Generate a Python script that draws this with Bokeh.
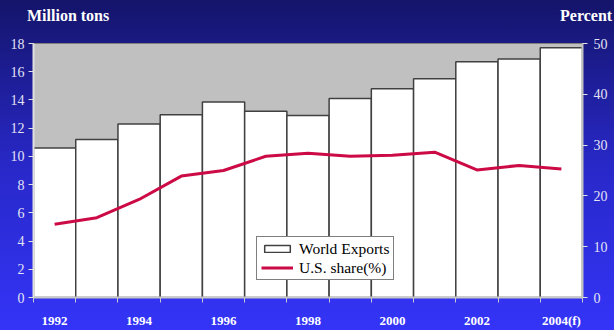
from bokeh.plotting import figure
from bokeh.layouts import column
from bokeh.models import (Range1d, LinearAxis, FixedTicker, Legend, LegendItem,
                          ColumnDataSource, Div)
from bokeh.embed import file_html
from bokeh.resources import INLINE

years = [1992, 1993, 1994, 1995, 1996, 1997, 1998, 1999, 2000, 2001, 2002, 2003, 2004]
world_exports = [10.6, 11.2, 12.3, 12.95, 13.85, 13.2, 12.9, 14.1, 14.8, 15.5, 16.7, 16.9, 17.7]
us_share = [14.4, 15.7, 19.3, 23.9, 25.0, 27.8, 28.4, 27.8, 28.0, 28.6, 25.1, 26.0, 25.3]
x_tick_labels = {1992: "1992", 1994: "1994", 1996: "1996", 1998: "1998",
                 2000: "2000", 2002: "2002", 2004: "2004(f)"}
left_ticks = [0, 2, 4, 6, 8, 10, 12, 14, 16, 18]
right_ticks = [0, 10, 20, 30, 40, 50]
left_title = "Million tons"
right_title = "Percent"

font = "Liberation Serif"
tick_color = "#e4e4f4"

src = ColumnDataSource(dict(year=years, exports=world_exports, share=us_share))

# header strip holding the two axis titles
span_style = ("position:absolute;top:8px;line-height:16px;white-space:nowrap;"
              "font-family:'Liberation Serif',serif;font-weight:bold;font-size:16px;color:white;")
head_html = (
    '<div style="position:relative;width:614px;height:35px;overflow:hidden;">'
    f'<span style="{span_style}left:27px;">{left_title}</span>'
    f'<span style="{span_style}left:560px;">{right_title}</span>'
    '</div>'
)
head = Div(text=head_html, width=614, height=35,
           styles={"overflow": "hidden", "margin": "0", "padding": "0"})

p = figure(width=614, height=295, output_backend="svg", toolbar_location=None,
           x_range=Range1d(years[0] - 0.5, years[-1] + 0.5), y_range=Range1d(0, 18),
           min_border_left=33, min_border_right=32, min_border_top=8, min_border_bottom=30)
p.extra_y_ranges = {"pct": Range1d(0, 50)}

p.border_fill_alpha = 0
p.background_fill_color = "#c0c0c0"
p.outline_line_color = "#808080"
p.xgrid.visible = False
p.ygrid.visible = False

bars = p.vbar(x="year", top="exports", width=1.0, source=src, fill_color="white",
              line_color="#404040", line_width=1.5)
line = p.line(x="year", y="share", source=src, y_range_name="pct",
              line_color="#cc0a45", line_width=3)

# x axis
xa = p.xaxis[0]
edges = [y - 0.5 for y in years] + [years[-1] + 0.5]
xa.ticker = FixedTicker(ticks=list(x_tick_labels.keys()), minor_ticks=edges)
xa.major_label_overrides = x_tick_labels
xa.major_tick_out = 0
xa.major_tick_in = 0
xa.minor_tick_out = 5
xa.minor_tick_in = 0
xa.minor_tick_line_color = "#c8c8c8"
xa.axis_line_color = "#c8c8c8"
xa.axis_line_width = 2
xa.major_label_text_font = font
xa.major_label_text_font_style = "bold"
xa.major_label_text_font_size = "13px"
xa.major_label_text_color = "white"
xa.major_label_standoff = 10

# left axis
ya = p.yaxis[0]
ya.ticker = FixedTicker(ticks=left_ticks)
ya.minor_tick_line_color = None
ya.major_tick_out = 5
ya.major_tick_in = 0
ya.major_tick_line_color = "#e0e0e0"
ya.axis_line_color = "#e0e0e0"
ya.axis_line_width = 2
ya.major_label_text_font = font
ya.major_label_text_font_size = "14px"
ya.major_label_text_color = tick_color
ya.major_label_standoff = 4

# right axis
ra = LinearAxis(y_range_name="pct", ticker=FixedTicker(ticks=right_ticks))
ra.minor_tick_line_color = None
ra.major_tick_out = 5
ra.major_tick_in = 0
ra.major_tick_line_color = "#e0e0e0"
ra.axis_line_color = "#c0c0c0"
ra.axis_line_width = 2
ra.major_label_text_font = font
ra.major_label_text_font_size = "14px"
ra.major_label_text_color = tick_color
ra.major_label_standoff = 6
p.add_layout(ra, "right")

legend = Legend(items=[LegendItem(label="World Exports", renderers=[bars]),
                       LegendItem(label="U.S. share(%)", renderers=[line])],
                location=(223, 17))
legend.label_text_font = font
legend.label_text_font_size = "15.5px"
legend.label_text_color = "black"
legend.border_line_color = "black"
legend.border_line_width = 1
legend.background_fill_color = "white"
legend.background_fill_alpha = 1
legend.padding = dict(left=4, right=4, top=2, bottom=2)
legend.spacing = 0
legend.margin = 0
legend.glyph_width = 32
legend.glyph_height = 9
legend.label_height = 19
legend.label_standoff = 6
p.add_layout(legend, "center")

page = column(head, p, spacing=0)
page.styles = {"background": "linear-gradient(180deg, #14146a 0%, #2828c8 50%, #3434f8 100%)"}

open("out.html", "w").write(file_html(page, INLINE))
